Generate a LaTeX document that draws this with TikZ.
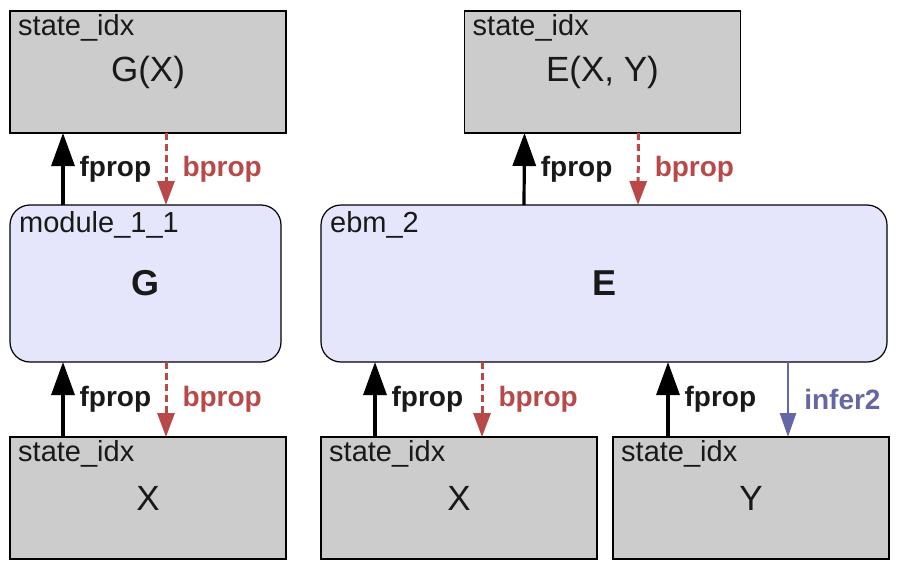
\documentclass[tikz,border=0pt]{standalone}
\usepackage{fontspec}
\setmainfont{Liberation Sans}
\usetikzlibrary{arrows.meta}

\definecolor{statefill}{RGB}{204,204,204}
\definecolor{modfill}{RGB}{229,229,252}
\definecolor{bpropred}{RGB}{185,72,72}
\definecolor{inferblue}{RGB}{102,102,165}
\definecolor{inktext}{RGB}{25,25,25}

\begin{document}
\begin{tikzpicture}[x=1pt,y=-1pt,
  statebox/.style={draw, line width=1.2pt, fill=statefill, text=inktext,
    minimum width=276pt, minimum height=122pt, inner sep=0pt, outer sep=0pt,
    font=\fontsize{35}{40}\selectfont},
  modbox/.style={draw, line width=1.2pt, fill=modfill, text=inktext,
    rounded corners=20pt, minimum height=157pt, inner sep=0pt, outer sep=0pt,
    font=\fontsize{36}{40}\selectfont\bfseries},
  idxname/.style={anchor=north west, inner sep=0pt, xshift=8pt, yshift=-3pt,
    text=inktext, font=\fontsize{29}{34}\selectfont},
  modname/.style={anchor=north west, inner sep=0pt, xshift=9pt, yshift=-6pt,
    text=inktext, font=\fontsize{29}{34}\selectfont},
  fwdarrow/.style={line width=3.2pt, -{Triangle[length=33pt,width=23pt]}},
  bwdarrow/.style={line width=3pt, bpropred, dash pattern=on 7pt off 4pt,
    -{Triangle[length=24pt,width=17pt]}},
  inferarrow/.style={line width=2.6pt, inferblue,
    -{Triangle[length=24pt,width=16pt]}},
  arrowtext/.style={midway, anchor=west, inner sep=0pt, xshift=15pt,
    font=\fontsize{28}{32}\selectfont\bfseries}]

  % Canvas
  \useasboundingbox (0,0) rectangle (900,570);

  % Top states
  \node[statebox, label={[idxname]north west:state\_idx}] (gx) at (148,72) {G(X)};
  \node[statebox, label={[idxname]north west:state\_idx}] (exy) at (602.5,72) {E(X, Y)};

  % Modules
  \node[modbox, minimum width=271pt, label={[modname]north west:module\_1\_1}] (gmod) at (145.5,283.5) {G};
  \node[modbox, minimum width=566pt, label={[modname]north west:ebm\_2}] (ebm) at (604,283.5) {E};

  % Bottom states
  \node[statebox, label={[idxname]north west:state\_idx}] (xa) at (148,498) {X};
  \node[statebox, label={[idxname]north west:state\_idx}] (xb) at (459,498) {X};
  \node[statebox, label={[idxname]north west:state\_idx}] (yb) at (751,498) {Y};

  % module_1_1 connections
  \draw[fwdarrow] ([xshift=53]gmod.north west) -- ([xshift=53]gx.south west)
    node[arrowtext, text=inktext] {fprop};
  \draw[bwdarrow] ([xshift=156]gx.south west) -- ([xshift=156]gmod.north west)
    node[arrowtext, text=bpropred] {bprop};
  \draw[fwdarrow] ([xshift=53]xa.north west) -- ([xshift=53]gmod.south west)
    node[arrowtext, text=inktext] {fprop};
  \draw[bwdarrow] ([xshift=156]gmod.south west) -- ([xshift=156]xa.north west)
    node[arrowtext, text=bpropred] {bprop};

  % ebm_2 connections
  \draw[fwdarrow] ([xshift=203]ebm.north west) -- ([xshift=60]exy.south west)
    node[arrowtext, text=inktext] {fprop};
  \draw[bwdarrow] ([xshift=174]exy.south west) -- ([xshift=317]ebm.north west)
    node[arrowtext, text=bpropred] {bprop};
  \draw[fwdarrow] ([xshift=54]xb.north west) -- ([xshift=54]ebm.south west)
    node[arrowtext, text=inktext] {fprop};
  \draw[bwdarrow] ([xshift=161]ebm.south west) -- ([xshift=161]xb.north west)
    node[arrowtext, text=bpropred] {bprop};
  \draw[fwdarrow] ([xshift=55]yb.north west) -- ([xshift=347]ebm.south west)
    node[arrowtext, text=inktext] {fprop};
  \draw[inferarrow] ([xshift=467]ebm.south west) -- ([xshift=175]yb.north west)
    node[arrowtext, text=inferblue] {infer2};

\end{tikzpicture}
\end{document}
